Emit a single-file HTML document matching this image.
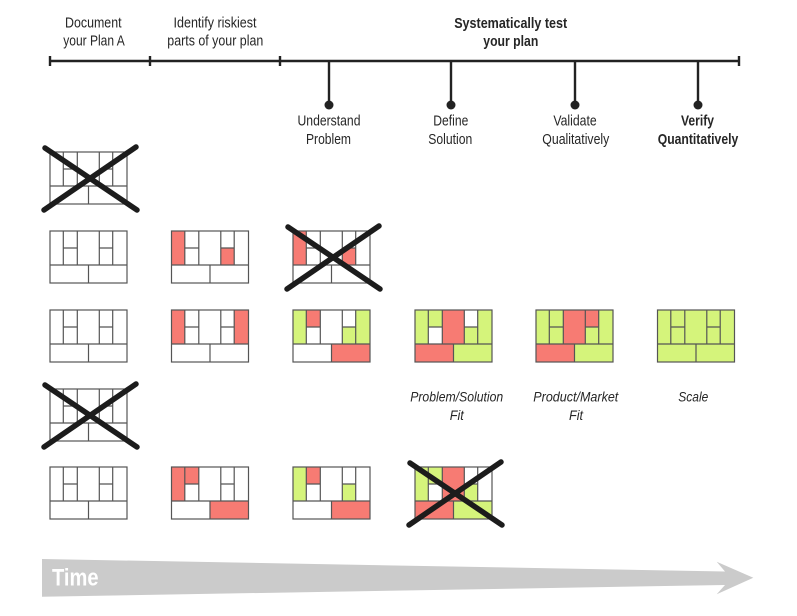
<!DOCTYPE html>
<html>
<head>
<meta charset="utf-8">
<style>
html,body{margin:0;padding:0;background:#fff;}
svg{display:block;}
text{font-family:"Liberation Sans",sans-serif;fill:#262626;}
</style>
</head>
<body>
<svg width="797" height="616" viewBox="0 0 797 616" xmlns="http://www.w3.org/2000/svg">
<defs>
  <g id="grid" fill="none" stroke="#555" stroke-width="1.2">
    <rect x="0" y="0" width="77" height="52"/>
    <path d="M13.3 0V34M27.3 0V34M49.3 0V34M62.7 0V34M0 34H77M13.3 17H27.3M49.3 17H62.7M38.5 34V52"/>
  </g>
  <g id="cross" stroke="#1c1c1c" stroke-width="5.5" stroke-linecap="round">
    <line x1="-5" y1="-4" x2="87" y2="58"/>
    <line x1="-6" y1="58" x2="86" y2="-5"/>
  </g>
</defs>

<!-- Timeline -->
<g stroke="#222" stroke-width="2.4" fill="none">
  <line x1="50" y1="61" x2="739" y2="61"/>
  <line x1="50" y1="56" x2="50" y2="66"/>
  <line x1="150" y1="56" x2="150" y2="66"/>
  <line x1="280" y1="56" x2="280" y2="66"/>
  <line x1="739" y1="56" x2="739" y2="66"/>
  <line x1="329" y1="61" x2="329" y2="105"/>
  <line x1="451" y1="61" x2="451" y2="105"/>
  <line x1="575" y1="61" x2="575" y2="105"/>
  <line x1="698" y1="61" x2="698" y2="105"/>
</g>
<g fill="#222">
  <circle cx="329" cy="105" r="4.5"/>
  <circle cx="451" cy="105" r="4.5"/>
  <circle cx="575" cy="105" r="4.5"/>
  <circle cx="698" cy="105" r="4.5"/>
</g>

<!-- Top labels -->
<g font-size="15" text-anchor="middle">
  <text x="93.3" y="27.5" textLength="56.5" lengthAdjust="spacingAndGlyphs">Document</text>
  <text x="94" y="45.5" textLength="61.5" lengthAdjust="spacingAndGlyphs">your Plan A</text>
  <text x="215" y="27.5" textLength="83" lengthAdjust="spacingAndGlyphs">Identify riskiest</text>
  <text x="215.3" y="45.5" textLength="96" lengthAdjust="spacingAndGlyphs">parts of your plan</text>
  <text x="510.7" y="28" font-weight="bold" textLength="113" lengthAdjust="spacingAndGlyphs">Systematically test</text>
  <text x="510.8" y="46" font-weight="bold" textLength="55" lengthAdjust="spacingAndGlyphs">your plan</text>

  <text x="329" y="125.5" textLength="63" lengthAdjust="spacingAndGlyphs">Understand</text>
  <text x="328.5" y="143.8" textLength="45" lengthAdjust="spacingAndGlyphs">Problem</text>
  <text x="450.8" y="125.5" textLength="35" lengthAdjust="spacingAndGlyphs">Define</text>
  <text x="450.3" y="143.8" textLength="44" lengthAdjust="spacingAndGlyphs">Solution</text>
  <text x="575" y="125.5" textLength="43.3" lengthAdjust="spacingAndGlyphs">Validate</text>
  <text x="575.8" y="143.8" textLength="67" lengthAdjust="spacingAndGlyphs">Qualitatively</text>
  <text x="697.5" y="125.5" font-weight="bold" textLength="33" lengthAdjust="spacingAndGlyphs">Verify</text>
  <text x="698" y="143.8" font-weight="bold" textLength="80.5" lengthAdjust="spacingAndGlyphs">Quantitatively</text>
</g>

<!-- Italic labels -->
<g font-size="14" font-style="italic" text-anchor="middle">
  <text x="456.7" y="401.5" textLength="93" lengthAdjust="spacingAndGlyphs">Problem/Solution</text>
  <text x="456.8" y="420" textLength="14" lengthAdjust="spacingAndGlyphs">Fit</text>
  <text x="575.8" y="401.5" textLength="85" lengthAdjust="spacingAndGlyphs">Product/Market</text>
  <text x="576" y="420" textLength="14" lengthAdjust="spacingAndGlyphs">Fit</text>
  <text x="693.3" y="401.5" textLength="30" lengthAdjust="spacingAndGlyphs">Scale</text>
</g>

<!-- Canvases -->
<!-- Row 1 -->
<g transform="translate(50,152)"><use href="#grid"/></g>

<!-- Row 2 -->
<g transform="translate(50,231)"><use href="#grid"/></g>
<g transform="translate(171.5,231)">
  <rect x="0" y="0" width="13.3" height="34" fill="#f77b73"/>
  <rect x="49.3" y="17" width="13.4" height="17" fill="#f77b73"/>
  <use href="#grid"/>
</g>
<g transform="translate(293,231)">
  <rect x="0" y="0" width="13.3" height="34" fill="#f77b73"/>
  <rect x="49.3" y="17" width="13.4" height="17" fill="#f77b73"/>
  <use href="#grid"/>
</g>

<!-- Row 3 -->
<g transform="translate(50,310)"><use href="#grid"/></g>
<g transform="translate(171.5,310)">
  <rect x="0" y="0" width="13.3" height="34" fill="#f77b73"/>
  <rect x="62.7" y="0" width="14.3" height="34" fill="#f77b73"/>
  <use href="#grid"/>
</g>
<g transform="translate(293,310)">
  <rect x="0" y="0" width="13.3" height="34" fill="#d5f47b"/>
  <rect x="13.3" y="0" width="14" height="17" fill="#f77b73"/>
  <rect x="49.3" y="17" width="13.4" height="17" fill="#d5f47b"/>
  <rect x="62.7" y="0" width="14.3" height="34" fill="#d5f47b"/>
  <rect x="38.5" y="34" width="38.5" height="18" fill="#f77b73"/>
  <use href="#grid"/>
</g>
<g transform="translate(415,310)">
  <rect x="0" y="0" width="13.3" height="34" fill="#d5f47b"/>
  <rect x="13.3" y="0" width="14" height="17" fill="#d5f47b"/>
  <rect x="27.3" y="0" width="22" height="34" fill="#f77b73"/>
  <rect x="49.3" y="17" width="13.4" height="17" fill="#d5f47b"/>
  <rect x="62.7" y="0" width="14.3" height="34" fill="#d5f47b"/>
  <rect x="0" y="34" width="38.5" height="18" fill="#f77b73"/>
  <rect x="38.5" y="34" width="38.5" height="18" fill="#d5f47b"/>
  <use href="#grid"/>
</g>
<g transform="translate(536,310)">
  <rect x="0" y="0" width="27.3" height="34" fill="#d5f47b"/>
  <rect x="27.3" y="0" width="22" height="34" fill="#f77b73"/>
  <rect x="49.3" y="0" width="13.4" height="17" fill="#f77b73"/>
  <rect x="49.3" y="17" width="13.4" height="17" fill="#d5f47b"/>
  <rect x="62.7" y="0" width="14.3" height="34" fill="#d5f47b"/>
  <rect x="0" y="34" width="38.5" height="18" fill="#f77b73"/>
  <rect x="38.5" y="34" width="38.5" height="18" fill="#d5f47b"/>
  <use href="#grid"/>
</g>
<g transform="translate(657.5,310)">
  <rect x="0" y="0" width="77" height="52" fill="#d5f47b"/>
  <use href="#grid"/>
</g>

<!-- Row 4 -->
<g transform="translate(50,389)"><use href="#grid"/></g>

<!-- Row 5 -->
<g transform="translate(50,467)"><use href="#grid"/></g>
<g transform="translate(171.5,467)">
  <rect x="0" y="0" width="13.3" height="34" fill="#f77b73"/>
  <rect x="13.3" y="0" width="14" height="17" fill="#f77b73"/>
  <rect x="38.5" y="34" width="38.5" height="18" fill="#f77b73"/>
  <use href="#grid"/>
</g>
<g transform="translate(293,467)">
  <rect x="0" y="0" width="13.3" height="34" fill="#d5f47b"/>
  <rect x="13.3" y="0" width="14" height="17" fill="#f77b73"/>
  <rect x="49.3" y="17" width="13.4" height="17" fill="#d5f47b"/>
  <rect x="38.5" y="34" width="38.5" height="18" fill="#f77b73"/>
  <use href="#grid"/>
</g>
<g transform="translate(415,467)">
  <rect x="0" y="0" width="13.3" height="34" fill="#d5f47b"/>
  <rect x="13.3" y="0" width="14" height="17" fill="#d5f47b"/>
  <rect x="27.3" y="0" width="22" height="34" fill="#f77b73"/>
  <rect x="49.3" y="17" width="13.4" height="17" fill="#d5f47b"/>
  <rect x="0" y="34" width="38.5" height="18" fill="#f77b73"/>
  <rect x="38.5" y="34" width="38.5" height="18" fill="#d5f47b"/>
  <use href="#grid"/>
</g>

<!-- Crosses -->
<g transform="translate(50,152)"><use href="#cross"/></g>
<g transform="translate(293,231)"><use href="#cross"/></g>
<g transform="translate(50,389)"><use href="#cross"/></g>
<g transform="translate(415,467)"><use href="#cross"/></g>

<!-- Time arrow -->
<polygon points="42,559 725,571.5 716.7,561.7 753.3,577.7 716.7,594.3 725,585 42,596.7" fill="#cbcbcb"/>
<text x="52" y="585.7" font-size="24" font-weight="bold" style="fill:#fff" textLength="46.5" lengthAdjust="spacingAndGlyphs">Time</text>
</svg>
</body>
</html>
